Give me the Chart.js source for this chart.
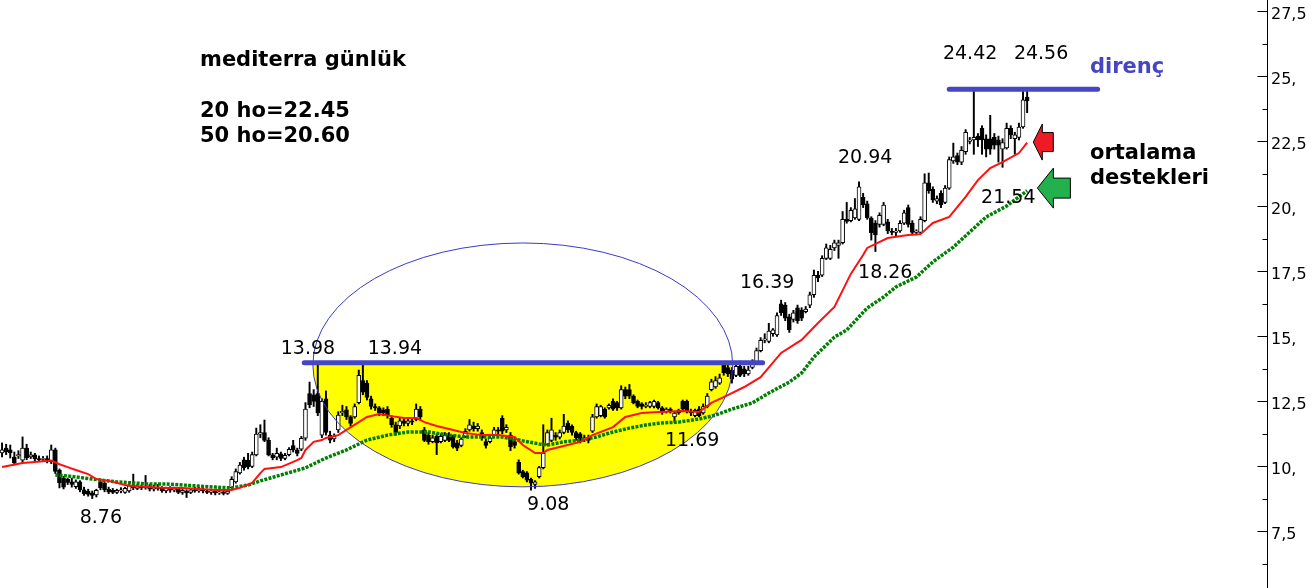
<!DOCTYPE html>
<html>
<head>
<meta charset="utf-8">
<script src="https://cdn.jsdelivr.net/npm/chart.js@4.4.1/dist/chart.umd.min.js"></script>
<style>
  html, body { margin: 0; padding: 0; background: #fff; }
  #kutu { width: 1314px; height: 588px; }
</style>
</head>
<body>
<div id="kutu"><canvas id="grafik"></canvas></div>
<script>
// günlük mumlar: açılış, yüksek, düşük, kapanış
const acilis = [
  10.52,10.70,10.63,10.36,10.40,10.24,10.70,10.36,10.44,10.30,10.27,10.30,10.18,10.63,9.86,9.55,9.50,9.40,9.22,9.40,
  9.10,9.05,8.98,8.90,9.40,9.35,9.12,9.08,9.00,9.05,9.00,9.05,9.28,9.15,9.22,9.18,9.25,9.12,9.20,9.15,
  9.05,9.15,9.08,9.12,9.00,9.05,9.00,9.10,9.05,9.12,9.05,9.00,9.05,8.98,9.02,8.96,9.18,9.40,9.75,10.25,
  10.24,10.00,10.44,11.24,11.30,11.00,10.44,10.35,10.48,10.30,10.45,10.80,10.63,10.66,11.08,12.80,12.75,12.80,11.20,12.60,
  11.20,11.05,11.40,12.05,12.17,11.90,11.90,12.45,13.30,13.20,12.60,12.30,12.25,12.17,12.20,11.85,11.60,11.55,11.75,11.65,
  11.75,11.80,12.20,11.40,11.20,10.95,11.15,10.95,11.00,11.20,11.15,10.90,10.80,11.15,11.40,11.55,11.45,11.30,10.95,10.95,
  11.20,11.40,11.85,11.40,11.20,10.95,10.15,9.80,9.75,9.50,9.30,9.60,9.95,10.85,11.00,11.20,11.12,11.30,11.65,11.55,
  11.30,11.25,11.05,11.10,11.35,11.90,11.95,12.20,12.25,12.50,12.45,12.25,12.95,12.95,12.70,12.50,12.40,12.30,12.30,12.30,
  12.45,12.25,12.10,12.20,11.90,12.15,12.50,12.50,12.10,11.95,12.20,12.05,12.30,12.95,13.05,13.20,13.90,13.80,13.70,13.50,
  13.85,13.75,13.55,13.80,14.00,14.45,14.85,14.80,15.10,15.05,16.25,16.20,15.75,15.65,16.10,16.00,15.95,16.20,16.60,17.35,
  17.35,18.00,18.00,18.40,18.50,18.60,19.50,19.45,19.55,19.50,20.35,20.10,19.55,19.35,19.30,19.30,19.40,19.05,19.00,19.05,
  19.35,19.95,19.35,19.00,19.00,19.45,20.90,20.65,20.20,20.50,20.15,20.70,21.75,21.95,21.70,22.10,22.50,22.55,22.70,23.00,
  22.60,22.60,22.65,22.55,22.20,22.25,23.00,22.60,22.65,23.05,24.20
];
const yuksek = [
  10.90,10.85,10.82,10.55,10.60,11.13,10.85,10.55,10.50,10.40,10.38,10.40,10.82,10.70,9.90,9.62,9.55,9.55,9.48,9.45,
  9.20,9.12,9.05,9.12,9.47,9.40,9.20,9.15,9.12,9.18,9.20,9.30,9.70,9.30,9.28,9.65,9.30,9.28,9.30,9.22,
  9.20,9.22,9.20,9.18,9.15,9.10,9.15,9.20,9.20,9.18,9.12,9.12,9.10,9.08,9.08,9.10,9.60,9.90,10.15,10.35,
  10.50,10.55,11.47,11.60,11.78,11.10,10.50,10.70,10.55,10.50,10.72,11.00,10.70,11.15,12.45,13.24,12.95,13.98,12.60,12.90,
  11.35,11.25,12.10,12.35,12.30,11.95,12.40,13.70,13.94,13.30,12.70,12.40,12.30,12.25,12.30,11.95,11.70,11.85,11.85,11.85,
  11.85,12.40,12.30,11.50,11.30,11.20,11.25,11.25,11.30,11.30,11.20,11.00,11.10,11.45,11.80,11.70,11.65,11.40,11.05,11.20,
  11.50,11.50,11.95,11.60,11.30,11.05,10.25,9.85,9.80,9.55,9.45,10.00,11.60,11.40,11.85,11.30,11.40,12.00,11.75,11.60,
  11.35,11.30,11.20,11.20,12.00,12.40,12.35,12.25,12.40,12.60,12.50,13.10,13.05,13.15,12.75,12.55,12.45,12.45,12.50,12.55,
  12.50,12.30,12.25,12.25,12.10,12.20,12.55,12.55,12.20,12.20,12.30,12.40,12.80,13.35,13.45,13.55,14.00,13.90,13.80,13.95,
  14.05,13.85,13.85,14.10,14.55,14.95,15.10,15.50,15.30,15.90,16.39,16.30,15.85,16.00,16.20,16.10,16.15,16.70,17.55,17.50,
  18.10,18.55,18.50,18.70,18.70,19.80,20.15,19.95,20.30,20.94,20.50,20.20,19.60,19.45,19.75,20.15,19.50,19.15,19.15,19.45,
  19.85,20.05,19.45,19.10,19.60,21.25,21.28,20.75,20.40,20.60,20.80,21.90,22.43,22.05,22.30,22.95,22.65,24.42,22.80,23.10,
  22.75,23.50,22.80,22.70,22.60,23.20,23.10,22.85,23.20,24.42,24.56
];
const dusuk = [
  10.36,10.45,10.32,10.05,10.30,10.15,10.25,10.30,10.20,10.18,10.20,10.13,10.10,9.72,9.17,9.13,9.30,9.20,9.15,9.02,
  8.88,8.85,8.76,8.82,9.10,9.02,8.95,8.95,8.95,8.98,8.96,9.00,9.10,9.10,9.10,9.12,9.05,9.05,9.08,9.00,
  8.98,9.00,9.02,8.95,8.92,8.80,8.95,9.00,9.00,8.98,8.95,8.92,8.90,8.92,8.90,8.92,9.12,9.35,9.70,9.85,
  9.90,9.95,10.40,11.10,10.95,10.40,10.25,10.25,10.22,10.25,10.40,10.55,10.40,10.60,11.00,12.25,12.30,11.95,11.10,11.20,
  10.90,10.95,11.30,11.95,11.80,11.55,11.85,12.40,12.75,12.55,12.20,12.15,11.95,11.95,11.85,11.50,11.20,11.45,11.55,11.55,
  11.60,11.75,11.80,10.95,10.85,10.90,10.45,10.90,10.95,10.95,10.70,10.60,10.75,11.10,11.35,11.35,11.35,11.00,10.70,10.90,
  11.15,11.25,11.25,11.30,10.60,10.70,9.70,9.55,9.40,9.08,9.15,9.55,9.90,10.80,10.95,11.00,11.05,11.25,11.30,11.20,
  11.00,10.90,10.95,10.90,11.30,11.85,11.90,11.85,12.20,12.15,12.15,12.20,12.60,12.60,12.40,12.25,12.20,12.25,12.25,12.25,
  12.20,12.00,12.05,12.05,11.69,12.00,12.10,12.05,11.95,11.90,11.90,12.00,12.25,12.90,13.00,13.15,13.50,13.45,13.20,13.45,
  13.45,13.45,13.50,13.75,13.95,14.40,14.75,14.75,15.00,15.00,15.80,15.60,15.15,15.55,15.50,15.60,15.90,16.10,16.50,17.10,
  17.30,17.95,17.95,18.30,18.00,18.55,19.35,19.40,19.50,19.45,19.95,19.50,18.70,18.26,19.20,19.25,18.95,18.90,18.85,19.00,
  19.30,19.20,18.90,18.90,18.95,19.40,20.50,20.15,20.10,19.95,20.10,20.65,21.65,21.60,21.60,22.00,22.40,22.00,22.30,22.00,
  21.90,22.00,22.20,21.70,21.50,22.20,22.60,22.00,22.55,23.00,23.60
];
const kapanis = [
  10.63,10.55,10.52,10.13,10.45,10.70,10.33,10.44,10.28,10.25,10.30,10.20,10.63,9.80,9.37,9.20,9.38,9.30,9.40,9.10,
  8.95,8.92,8.88,9.08,9.18,9.10,9.02,9.00,9.08,9.10,9.15,9.25,9.18,9.22,9.17,9.24,9.12,9.20,9.15,9.05,
  9.15,9.08,9.12,9.00,9.08,8.98,9.10,9.05,9.12,9.05,9.00,9.05,8.98,9.02,8.96,9.05,9.50,9.80,10.05,9.95,
  9.98,10.45,11.24,11.30,11.00,10.44,10.32,10.50,10.30,10.42,10.65,10.63,10.50,11.08,12.20,12.36,12.50,12.05,12.50,11.30,
  11.01,11.15,11.97,12.12,11.90,11.65,12.30,13.50,12.85,12.65,12.30,12.25,12.05,12.05,11.97,11.60,11.30,11.75,11.65,11.75,
  11.70,12.20,11.90,11.00,10.95,11.10,10.90,11.15,11.20,11.00,10.75,10.70,11.05,11.35,11.60,11.45,11.55,11.10,10.80,11.10,
  11.40,11.35,11.35,11.50,10.75,10.80,9.75,9.60,9.47,9.35,9.40,9.95,10.50,11.30,11.40,11.12,11.30,11.55,11.40,11.30,
  11.10,10.95,11.10,11.00,11.90,12.30,12.30,11.90,12.35,12.20,12.25,12.95,12.70,12.70,12.45,12.30,12.30,12.35,12.45,12.50,
  12.25,12.10,12.20,12.10,12.05,12.05,12.20,12.10,12.05,12.15,11.95,12.30,12.70,13.25,13.30,13.40,13.60,13.55,13.35,13.85,
  13.50,13.55,13.70,14.05,14.45,14.85,14.90,15.20,15.25,15.80,15.90,15.70,15.25,15.90,15.60,15.70,16.05,16.60,17.35,17.25,
  18.00,18.40,18.35,18.60,18.60,19.50,19.42,19.85,19.90,20.75,20.05,19.55,18.98,18.90,19.65,20.05,19.05,19.00,19.05,19.35,
  19.75,19.30,19.00,19.05,19.50,20.90,20.60,20.25,20.30,20.05,20.70,21.80,21.90,21.70,22.15,22.85,22.55,22.65,22.55,22.55,
  22.20,22.20,22.35,22.35,22.45,23.00,22.75,22.75,23.05,24.10,24.05
];

// hareketli ortalamalar, resimden okunan noktalar: [mum sırası, değer]
const ho20 = [
  [0,9.97],[5,10.13],[8,10.17],[12,10.22],[14,10.08],[16,9.97],[18,9.86],[21,9.70],[23,9.51],[26,9.44],
  [30,9.28],[32,9.24],[36,9.20],[40,9.17],[44,9.17],[48,9.13],[52,9.09],[56,9.09],[58,9.17],[61,9.36],
  [63,9.74],[64,9.90],[68,9.97],[72,10.24],[73,10.32],[74,10.63],[76,10.94],[78,11.01],[79,11.09],[82,11.20],
  [84,11.40],[87,11.70],[89,11.90],[92,12.01],[95,11.93],[98,11.86],[101,11.86],[103,11.70],[106,11.55],[110,11.40],
  [113,11.28],[117,11.20],[121,11.20],[125,11.13],[127,10.82],[130,10.51],[132,10.51],[133,10.63],[136,10.74],[141,10.94],
  [144,11.20],[149,11.51],[152,11.90],[156,12.05],[160,12.09],[166,12.13],[170,12.09],[173,12.44],[177,12.74],[181,13.05],
  [185,13.43],[190,14.36],[195,14.86],[199,15.51],[203,16.13],[207,17.40],[210,18.13],[211,18.40],[216,18.78],[221,18.90],
  [224,18.93],[227,19.36],[231,19.59],[235,20.36],[238,21.01],[241,21.47],[244,21.70],[248,22.05],[250,22.45]
];
const ho50 = [
  [13,9.67],[16,9.63],[20,9.55],[24,9.47],[28,9.40],[32,9.36],[36,9.32],[40,9.32],[44,9.28],[48,9.24],
  [52,9.20],[56,9.17],[60,9.28],[63,9.44],[74,9.94],[77,10.17],[79,10.32],[84,10.63],[89,11.01],[94,11.20],
  [99,11.32],[104,11.32],[109,11.20],[113,11.13],[117,11.13],[122,11.13],[126,11.01],[131,10.86],[133,10.82],[137,10.94],
  [141,11.01],[145,11.13],[149,11.32],[153,11.47],[157,11.59],[161,11.67],[165,11.70],[170,11.82],[174,11.97],[178,12.20],
  [183,12.44],[187,12.82],[192,13.24],[195,13.59],[198,14.20],[203,14.97],[206,15.24],[211,16.09],[215,16.51],[218,16.90],
  [223,17.28],[227,17.86],[232,18.43],[236,19.01],[240,19.59],[245,20.01],[250,20.60]
];

// eksen etiketleri
const fiyatAdimlari = [7.5, 10, 12.5, 15, 17.5, 20, 22.5, 25, 27.5];
const fiyatEtiketleri = ['7,5', '10,', '12,5', '15,', '17,5', '20,', '22,5', '25,', '27,5'];

// tepe / dip etiketleri ve yerleri [mum sırası, fiyat]
const seviyeler = ['13.98', '13.94', '8.76', '9.08', '11.69', '16.39', '18.26', '20.94', '21.54', '24.42', '24.56'];
const seviyeYeri = [[74.6,14.51],[95.8,14.51],[24.1,8.01],[133.2,8.51],[168.3,10.97],[186.6,17.05],[215.4,17.435],[210.5,21.86],[245.4,20.32],[236.1,25.86],[253.4,25.86]];

const direncAlt = 13.98;
const direncUst = 24.50;

const slotSayisi = 309; // sağda boşluk kalsın diye mumlardan fazla
const etiketler = Array.from({ length: slotSayisi }, (_, i) => i);

function seriyeCevir(noktalar) {
  const seri = new Array(slotSayisi).fill(null);
  noktalar.forEach(([i, v]) => { seri[i] = v; });
  return seri;
}

const fitiller = yuksek.map((h, i) => [dusuk[i], h]);
const govdeler = acilis.map((o, i) => [o, kapanis[i]]);
const govdeRenk = acilis.map((o, i) => (kapanis[i] >= o ? '#ffffff' : '#000000'));

const susleme = {
  id: 'susleme',
  beforeDatasetsDraw(chart) {
    const { ctx, scales: { x, y } } = chart;
    const cx = x.getPixelForValue(127);
    const rx = x.getPixelForValue(127 + 51.2) - cx;
    const cy = y.getPixelForValue(13.9);
    const ry = y.getPixelForValue(13.9 - 4.69) - cy;
    ctx.save();
    ctx.beginPath();
    ctx.ellipse(cx, cy, rx, ry, 0, 0, Math.PI);
    ctx.closePath();
    ctx.fillStyle = '#ffff00';
    ctx.fill();
    ctx.restore();
  },
  afterDatasetsDraw(chart) {
    const { ctx, chartArea, scales: { x, y } } = chart;
    ctx.save();

    // elips
    const cx = x.getPixelForValue(127);
    const rx = x.getPixelForValue(127 + 51.2) - cx;
    const cy = y.getPixelForValue(13.9);
    const ry = y.getPixelForValue(13.9 - 4.69) - cy;
    ctx.beginPath();
    ctx.ellipse(cx, cy, rx, ry, 0, 0, Math.PI * 2);
    ctx.strokeStyle = '#3a3ac8';
    ctx.lineWidth = 1;
    ctx.stroke();

    // direnç çizgileri
    ctx.strokeStyle = '#4646c4';
    ctx.lineWidth = 5;
    ctx.lineCap = 'round';
    ctx.beginPath();
    ctx.moveTo(x.getPixelForValue(73.7), y.getPixelForValue(direncAlt));
    ctx.lineTo(x.getPixelForValue(185.5), y.getPixelForValue(direncAlt));
    ctx.moveTo(x.getPixelForValue(231), y.getPixelForValue(direncUst));
    ctx.lineTo(x.getPixelForValue(267.2), y.getPixelForValue(direncUst));
    ctx.stroke();

    // seviye etiketleri
    ctx.fillStyle = '#000';
    ctx.font = '19px "DejaVu Sans"';
    ctx.textAlign = 'center';
    ctx.textBaseline = 'middle';
    seviyeler.forEach((t, k) => {
      ctx.fillText(t, x.getPixelForValue(seviyeYeri[k][0]), y.getPixelForValue(seviyeYeri[k][1]));
    });

    // başlık
    ctx.textAlign = 'left';
    ctx.textBaseline = 'alphabetic';
    ctx.font = 'bold 21px "DejaVu Sans"';
    ctx.fillText('mediterra günlük', 200, 66);
    ctx.fillText('20 ho=22.45', 200, 117);
    ctx.fillText('50 ho=20.60', 200, 142);
    ctx.fillText('ortalama', 1090, 159);
    ctx.fillText('destekleri', 1090, 184);
    ctx.fillStyle = '#4646c4';
    ctx.fillText('direnç', 1090, 73);

    // oklar
    function ok(tx, ty, bas, yarim, govdeYarim, boy, renk) {
      ctx.beginPath();
      ctx.moveTo(tx, ty);
      ctx.lineTo(tx + bas, ty - yarim);
      ctx.lineTo(tx + bas, ty - govdeYarim);
      ctx.lineTo(tx + boy, ty - govdeYarim);
      ctx.lineTo(tx + boy, ty + govdeYarim);
      ctx.lineTo(tx + bas, ty + govdeYarim);
      ctx.lineTo(tx + bas, ty + yarim);
      ctx.closePath();
      ctx.fillStyle = renk;
      ctx.fill();
      ctx.strokeStyle = '#000';
      ctx.lineWidth = 1;
      ctx.lineCap = 'butt';
      ctx.stroke();
    }
    ok(x.getPixelForValue(251.5), y.getPixelForValue(22.47), 9, 18, 9.5, 20, '#ed1c24');
    ok(x.getPixelForValue(252.5), y.getPixelForValue(20.7), 16, 20, 10, 33, '#22b14c');

    // fiyat ekseni çizgisi ve çentikler
    const ax = Math.round(chartArea.right) + 0.5;
    ctx.strokeStyle = '#000';
    ctx.lineWidth = 1;
    ctx.beginPath();
    ctx.moveTo(ax, 0);
    ctx.lineTo(ax, chart.height);
    y.ticks.forEach(t => {
      const py = Math.round(y.getPixelForValue(t.value)) + 0.5;
      const buyuk = fiyatAdimlari.some(a => Math.abs(a - t.value) < 1e-6);
      ctx.moveTo(ax - (buyuk ? 10 : 5), py);
      ctx.lineTo(ax, py);
    });
    ctx.stroke();
    ctx.restore();
  }
};

const ctx = document.getElementById('grafik').getContext('2d');
new Chart(ctx, {
  type: 'bar',
  data: {
    labels: etiketler,
    datasets: [
      {
        type: 'line',
        label: '20 ho',
        data: seriyeCevir(ho20),
        borderColor: '#ff1010',
        borderWidth: 2,
        pointRadius: 0,
        spanGaps: true,
        tension: 0,
        order: 0
      },
      {
        type: 'line',
        label: '50 ho',
        data: seriyeCevir(ho50),
        borderColor: '#008000',
        borderWidth: 3.5,
        borderDash: [3, 1.3],
        pointRadius: 0,
        spanGaps: true,
        tension: 0,
        order: 0
      },
      {
        label: 'gövde',
        data: govdeler,
        backgroundColor: govdeRenk,
        borderColor: '#000',
        borderWidth: 1,
        borderSkipped: false,
        barThickness: 4,
        grouped: false,
        order: 1
      },
      {
        label: 'fitil',
        data: fitiller,
        backgroundColor: '#000',
        barThickness: 1.3,
        grouped: false,
        order: 2
      }
    ]
  },
  options: {
    responsive: true,
    maintainAspectRatio: false,
    animation: false,
    layout: { padding: 0 },
    plugins: {
      legend: { display: false },
      tooltip: { enabled: false }
    },
    scales: {
      x: {
        display: false,
        offset: true
      },
      y: {
        position: 'right',
        min: 5.32,
        max: 27.935,
        grid: { display: false, drawTicks: false },
        border: { display: false },
        ticks: {
          stepSize: 1.25,
          includeBounds: false,
          autoSkip: false,
          padding: 4,
          labelOffset: 4,
          color: '#000',
          font: { family: 'DejaVu Sans', size: 16 },
          callback: (v) => {
            const k = fiyatAdimlari.findIndex(a => Math.abs(a - v) < 1e-6);
            return k >= 0 ? fiyatEtiketleri[k] : '';
          }
        },
        afterFit: (scale) => {
          scale.width = 47;
          scale.paddingTop = 0;
          scale.paddingBottom = 0;
        }
      }
    }
  },
  plugins: [susleme]
});
</script>
</body>
</html>
